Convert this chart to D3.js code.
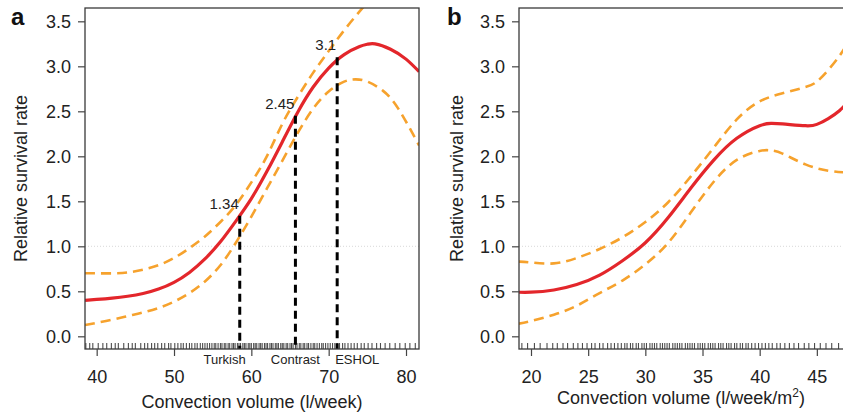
<!DOCTYPE html>
<html><head><meta charset="utf-8">
<script src="https://cdn.jsdelivr.net/npm/d3@7"></script>
<style>
body{margin:0;background:#fff;}
svg{display:block;font-family:"Liberation Sans",Arial,Helvetica,sans-serif;}
</style></head>
<body>
<svg id="c" width="843" height="413"></svg>
<script>
// ---------- DATA ----------
const yTicks = [0.0, 0.5, 1.0, 1.5, 2.0, 2.5, 3.0, 3.5];
const aTicks = [40, 50, 60, 70, 80];
const bTicks = [20, 25, 30, 35, 40, 45];

// Panel a: convection volume (l/week)
const aFitX   = [38.5, 40, 42, 44, 46, 48, 50, 52, 54, 56, 58, 60, 62, 64, 66, 68, 70, 72, 74, 75, 76, 78, 80, 81.7];
const aFitY   = [0.40, 0.41, 0.425, 0.445, 0.475, 0.525, 0.60, 0.71, 0.86, 1.05, 1.28, 1.53, 1.83, 2.16, 2.49, 2.77, 2.98, 3.13, 3.22, 3.245, 3.25, 3.19, 3.08, 2.94];
const aUpX    = [38.5, 40, 42, 44, 46, 48, 50, 52, 54, 56, 58, 60, 62, 64, 66, 68, 70, 72, 74, 75.5];
const aUpY    = [0.70, 0.70, 0.70, 0.71, 0.74, 0.79, 0.87, 0.98, 1.11, 1.27, 1.46, 1.71, 2.00, 2.36, 2.66, 2.93, 3.17, 3.40, 3.61, 3.76];
const aLoX    = [38.5, 40, 42, 44, 46, 48, 50, 52, 54, 56, 58, 60, 62, 64, 66, 68, 70, 72, 73.5, 75, 77, 79, 81.7];
const aLoY    = [0.125, 0.15, 0.185, 0.225, 0.265, 0.315, 0.385, 0.48, 0.61, 0.79, 1.04, 1.33, 1.64, 1.95, 2.26, 2.53, 2.72, 2.83, 2.855, 2.83, 2.73, 2.53, 2.12];
const studyNames  = ["Turkish", "Contrast", "ESHOL"];
const studyX      = [58.5, 65.7, 71.1];
const studyValues = [1.34, 2.45, 3.1];
const studyLabels = ["1.34", "2.45", "3.1"];
const aRug = [38.6,39.1,39.5,40.2,40.8,41.3,41.9,42.4,42.8,43.5,44.1,44.6,45.0,45.7,46.2,46.6,47.1,47.5,47.9,48.4,48.8,49.3,49.6,50.1,50.5,50.9,51.2,51.6,52.0,52.3,52.7,53.0,53.4,53.7,54.0,54.3,54.6,54.9,55.2,55.4,55.7,56.0,56.2,56.5,56.7,57.0,57.2,57.5,57.7,57.9,58.2,58.4,58.6,58.9,59.1,59.3,59.6,59.8,60.0,60.3,60.5,60.7,61.0,61.2,61.4,61.7,61.9,62.1,62.4,62.6,62.8,63.1,63.3,63.5,63.8,64.0,64.2,64.5,64.7,65.0,65.2,65.4,65.7,65.9,66.2,66.4,66.7,66.9,67.2,67.4,67.7,68.0,68.2,68.5,68.8,69.1,69.3,69.6,69.9,70.2,70.5,70.8,71.1,71.4,71.8,72.1,72.5,72.9,73.3,73.7,74.2,74.6,75.1,75.6,76.2,76.7,77.3,77.9,78.6,79.2,79.9,80.5,81.2];

// Panel b: convection volume (l/week/m2)
const bFitX = [18.9, 20, 22, 24, 26, 28, 30, 32, 34, 36, 38, 40, 41, 42, 44, 45, 46, 47, 47.6];
const bFitY = [0.49, 0.49, 0.515, 0.575, 0.68, 0.84, 1.04, 1.32, 1.65, 1.96, 2.20, 2.34, 2.365, 2.36, 2.34, 2.355, 2.42, 2.51, 2.59];
const bUpX  = [18.9, 20, 22, 24, 26, 28, 30, 32, 34, 36, 38, 40, 42, 44, 45, 46, 47, 47.6];
const bUpY  = [0.83, 0.82, 0.81, 0.87, 0.97, 1.10, 1.27, 1.49, 1.78, 2.10, 2.41, 2.61, 2.70, 2.77, 2.83, 2.96, 3.12, 3.24];
const bLoX  = [18.9, 20, 22, 24, 26, 28, 30, 32, 34, 36, 38, 40, 41, 42, 44, 46, 47.6];
const bLoY  = [0.14, 0.17, 0.24, 0.34, 0.48, 0.62, 0.80, 1.04, 1.38, 1.72, 1.96, 2.06, 2.065, 2.03, 1.91, 1.84, 1.82];
const bRug = [19.2,19.7,20.3,20.8,21.4,21.9,22.3,22.8,23.2,23.7,24.1,24.5,24.9,25.3,25.6,26.0,26.3,26.7,27.0,27.3,27.6,27.9,28.2,28.4,28.7,28.9,29.2,29.4,29.7,29.9,30.1,30.4,30.6,30.8,31.0,31.3,31.5,31.7,31.9,32.1,32.4,32.6,32.8,33.0,33.2,33.5,33.7,33.9,34.1,34.3,34.6,34.8,35.0,35.2,35.5,35.7,35.9,36.1,36.4,36.6,36.8,37.1,37.3,37.5,37.8,38.0,38.3,38.5,38.8,39.0,39.3,39.6,39.9,40.2,40.5,40.8,41.1,41.5,41.8,42.2,42.6,43.0,43.4,43.9,44.3,44.8,45.3,45.8,46.3,46.9];

// ---------- DRAW ----------
const svg = d3.select("#c");
const plotTop = 8, plotBottom = 349;
const y = d3.scaleLinear().domain([-0.141, 3.648]).range([plotBottom, plotTop]);

const RED = "#e3262b", ORANGE = "#f6a22d";

function panel(opt) {
  const x = d3.scaleLinear().domain(opt.domain).range(opt.range);
  const g = svg.append("g");
  const id = "clip" + opt.letter;
  svg.append("defs").append("clipPath").attr("id", id)
    .append("rect").attr("x", opt.range[0]).attr("y", plotTop)
    .attr("width", opt.range[1] - opt.range[0]).attr("height", plotBottom - plotTop);

  const plot = g.append("g").attr("clip-path", `url(#${id})`);

  // reference line at 1.0
  plot.append("line").attr("x1", opt.range[0]).attr("x2", opt.range[1])
    .attr("y1", y(1)).attr("y2", y(1))
    .attr("stroke", "#cfcfcf").attr("stroke-width", 0.8).attr("stroke-dasharray", "1,2");

  // rug
  plot.append("g").selectAll("line").data(opt.rug).join("line")
    .attr("x1", d => x(d)).attr("x2", d => x(d))
    .attr("y1", plotBottom - 6).attr("y2", plotBottom)
    .attr("stroke", "#111").attr("stroke-opacity", 0.75).attr("stroke-width", 1.1);

  const line = d3.line().x(d => x(d[0])).y(d => y(d[1])).curve(d3.curveNatural);
  const zip = (xs, ys) => xs.map((v, i) => [v, ys[i]]);

  plot.append("path").attr("d", line(zip(opt.upX, opt.upY)))
    .attr("fill", "none").attr("stroke", ORANGE).attr("stroke-width", 2.6).attr("stroke-dasharray", "10,6");
  plot.append("path").attr("d", line(zip(opt.loX, opt.loY)))
    .attr("fill", "none").attr("stroke", ORANGE).attr("stroke-width", 2.6).attr("stroke-dasharray", "10,6");
  plot.append("path").attr("d", line(zip(opt.fitX, opt.fitY)))
    .attr("fill", "none").attr("stroke", RED).attr("stroke-width", 3.2);

  if (opt.studies) {
    const s = opt.studies;
    s.x.forEach((sx, i) => {
      plot.append("line").attr("x1", x(sx)).attr("x2", x(sx))
        .attr("y1", y(s.v[i])).attr("y2", plotBottom)
        .attr("stroke", "#000").attr("stroke-width", 3).attr("stroke-dasharray", "8,5");
      g.append("text").attr("x", x(sx) - 1).attr("y", y(s.v[i]) - 7)
        .attr("text-anchor", "end").attr("font-size", 15).attr("fill", "#222")
        .text(s.labels[i]);
      g.append("text").attr("x", x(sx) + [6, 0, -2][i]).attr("y", 364)
        .attr("text-anchor", ["end", "middle", "start"][i]).attr("font-size", 13).attr("fill", "#222")
        .text(s.names[i]);
    });
  }

  // frame
  g.append("rect").attr("x", opt.range[0]).attr("y", plotTop)
    .attr("width", opt.range[1] - opt.range[0]).attr("height", plotBottom - plotTop)
    .attr("fill", "none").attr("stroke", "#3a3a3a").attr("stroke-width", 1.3);

  // axes
  const ya = g.append("g").attr("transform", `translate(${opt.range[0]},0)`)
    .call(d3.axisLeft(y).tickValues(yTicks).tickFormat(d3.format(".1f")).tickSize(7).tickPadding(7));
  ya.select(".domain").remove();
  ya.selectAll("line").attr("stroke", "#444").attr("stroke-width", 1.2);
  ya.selectAll("text").attr("font-size", 18).attr("fill", "#222").attr("font-family", null);

  const xa = g.append("g").attr("transform", `translate(0,${plotBottom})`)
    .call(d3.axisBottom(x).tickValues(opt.ticks).tickSize(7).tickPadding(14));
  xa.select(".domain").remove();
  xa.selectAll("line").attr("stroke", "#444").attr("stroke-width", 1.2);
  xa.selectAll("text").attr("font-size", 18).attr("fill", "#222").attr("font-family", null);

  // titles
  const cx = (opt.range[0] + Math.min(opt.range[1], 843)) / 2;
  const xt = g.append("text").attr("x", cx).attr("y", opt.xTitleY).attr("text-anchor", "middle")
    .attr("font-size", 18).attr("fill", "#222");
  if (opt.sup) {
    xt.append("tspan").text(opt.xTitle);
    xt.append("tspan").attr("font-size", 12).attr("dy", -7).text(opt.sup);
    xt.append("tspan").attr("dy", 7).text(")");
  } else {
    xt.text(opt.xTitle);
  }
  g.append("text").attr("transform", `translate(${opt.yTitleX},${(plotTop + plotBottom) / 2}) rotate(-90)`)
    .attr("text-anchor", "middle").attr("font-size", 18).attr("fill", "#222")
    .text("Relative survival rate");
  g.append("text").attr("x", opt.letterX).attr("y", 25).attr("font-size", 24)
    .attr("font-weight", "bold").attr("fill", "#111").text(opt.letter);
}

panel({
  letter: "a", letterX: 11, domain: [38.49, 81.68], range: [85, 419], ticks: aTicks,
  fitX: aFitX, fitY: aFitY, upX: aUpX, upY: aUpY, loX: aLoX, loY: aLoY, rug: aRug,
  studies: { x: studyX, v: studyValues, labels: studyLabels, names: studyNames },
  xTitle: "Convection volume (l/week)", xTitleY: 408, yTitleX: 27
});
panel({
  letter: "b", letterX: 447, domain: [18.95, 47.55], range: [519, 846], ticks: bTicks,
  fitX: bFitX, fitY: bFitY, upX: bUpX, upY: bUpY, loX: bLoX, loY: bLoY, rug: bRug,
  xTitle: "Convection volume (l/week/m", sup: "2", xTitleY: 404, yTitleX: 463
});
</script>
</body></html>
